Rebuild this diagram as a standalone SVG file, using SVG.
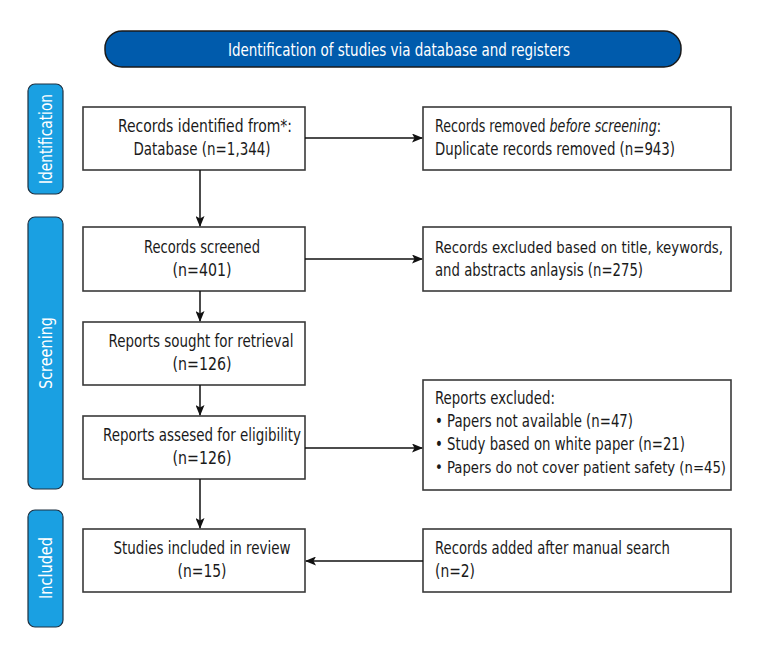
<svg xmlns="http://www.w3.org/2000/svg" width="760" height="660" viewBox="0 0 760 660">
<defs>
<marker id="ah" markerWidth="11" markerHeight="9" refX="10" refY="4.5" orient="auto" markerUnits="userSpaceOnUse">
<path d="M0,0 L11,4.5 L0,9 L2.5,4.5 Z" fill="#111"/>
</marker>
<style>
text{font-family:"DejaVu Sans Condensed","Liberation Sans",sans-serif;font-size:18px;fill:#1a1a1a}
.box{fill:#fff;stroke:#3a3a3a;stroke-width:1.6}
.side{fill:#1aa0e2;stroke:#1f3040;stroke-width:1.2}
.lbl{fill:#fff;text-anchor:middle}
.c{text-anchor:middle}
.i{font-style:italic}
.s{font-size:16.5px}
.edge{stroke:#111;stroke-width:1.5;fill:none;marker-end:url(#ah)}
</style>
</defs>
<rect width="760" height="660" fill="#fff"/>
<g id="title">
<rect x="105" y="31" width="576" height="36" rx="17" fill="#005bac" stroke="#1a1a1a" stroke-width="1.5"/>
<text x="399" y="56" class="lbl" textLength="342" lengthAdjust="spacingAndGlyphs">Identification of studies via database and registers</text>
</g>
<g id="phase-identification">
<rect x="28" y="84" width="35" height="110" rx="7" class="side"/>
<text transform="translate(52,139) rotate(-90)" class="lbl" textLength="90" lengthAdjust="spacingAndGlyphs">Identification</text>
</g>
<g id="phase-screening">
<rect x="28" y="217" width="35" height="272" rx="7" class="side"/>
<text transform="translate(52,353) rotate(-90)" class="lbl" textLength="72" lengthAdjust="spacingAndGlyphs">Screening</text>
</g>
<g id="phase-included">
<rect x="28" y="510" width="35" height="117" rx="7" class="side"/>
<text transform="translate(52,568) rotate(-90)" class="lbl" textLength="62" lengthAdjust="spacingAndGlyphs">Included</text>
</g>
<g id="identified">
<rect x="83" y="107" width="222" height="63" class="box"/>
<text x="205" y="132" class="c" textLength="174" lengthAdjust="spacingAndGlyphs">Records identified from*:</text>
<text x="202" y="155" class="c" textLength="137" lengthAdjust="spacingAndGlyphs">Database (n=1,344)</text>
</g>
<g id="removed">
<rect x="423" y="107" width="308" height="63" class="box"/>
<text x="435" y="132" textLength="226" lengthAdjust="spacingAndGlyphs">Records removed <tspan class="i">before screening</tspan>:</text>
<text x="435" y="155" textLength="240" lengthAdjust="spacingAndGlyphs">Duplicate records removed (n=943)</text>
</g>
<g id="screened">
<rect x="83" y="227" width="222" height="64" class="box"/>
<text x="202" y="253" class="c" textLength="116" lengthAdjust="spacingAndGlyphs">Records screened</text>
<text x="202" y="276" class="c" textLength="59" lengthAdjust="spacingAndGlyphs">(n=401)</text>
</g>
<g id="excluded">
<rect x="423" y="227" width="308" height="64" class="box"/>
<text x="435" y="253" class="s" textLength="288" lengthAdjust="spacingAndGlyphs">Records excluded based on title, keywords,</text>
<text x="435" y="276" textLength="208" lengthAdjust="spacingAndGlyphs">and abstracts anlaysis (n=275)</text>
</g>
<g id="sought">
<rect x="83" y="322" width="222" height="63" class="box"/>
<text x="201" y="347" class="c" textLength="185" lengthAdjust="spacingAndGlyphs">Reports sought for retrieval</text>
<text x="202" y="370" class="c" textLength="59" lengthAdjust="spacingAndGlyphs">(n=126)</text>
</g>
<g id="assessed">
<rect x="83" y="416" width="222" height="63" class="box"/>
<text x="202" y="441" class="c" textLength="198" lengthAdjust="spacingAndGlyphs">Reports assesed for eligibility</text>
<text x="202" y="464" class="c" textLength="59" lengthAdjust="spacingAndGlyphs">(n=126)</text>
</g>
<g id="reports-excluded">
<rect x="423" y="380" width="308" height="110" class="box"/>
<text x="435" y="404" textLength="120" lengthAdjust="spacingAndGlyphs">Reports excluded:</text>
<text x="435" y="427" textLength="198" lengthAdjust="spacingAndGlyphs">• Papers not available (n=47)</text>
<text x="435" y="450" textLength="250" lengthAdjust="spacingAndGlyphs">• Study based on white paper (n=21)</text>
<text x="435" y="473" class="s" textLength="291" lengthAdjust="spacingAndGlyphs">• Papers do not cover patient safety (n=45)</text>
</g>
<g id="included">
<rect x="83" y="529" width="222" height="63" class="box"/>
<text x="202" y="554" class="c" textLength="177" lengthAdjust="spacingAndGlyphs">Studies included in review</text>
<text x="202" y="577" class="c" textLength="49" lengthAdjust="spacingAndGlyphs">(n=15)</text>
</g>
<g id="manual">
<rect x="423" y="529" width="308" height="63" class="box"/>
<text x="435" y="554" textLength="235" lengthAdjust="spacingAndGlyphs">Records added after manual search</text>
<text x="435" y="577" textLength="40" lengthAdjust="spacingAndGlyphs">(n=2)</text>
</g>
<g id="connectors">
<path d="M305,138 H422" class="edge"/>
<path d="M200,170 V226" class="edge"/>
<path d="M305,259 H422" class="edge"/>
<path d="M200,291 V321" class="edge"/>
<path d="M200,385 V415" class="edge"/>
<path d="M305,448 H422" class="edge"/>
<path d="M200,479 V528" class="edge"/>
<path d="M423,561 H306" class="edge"/>
</g>
</svg>
